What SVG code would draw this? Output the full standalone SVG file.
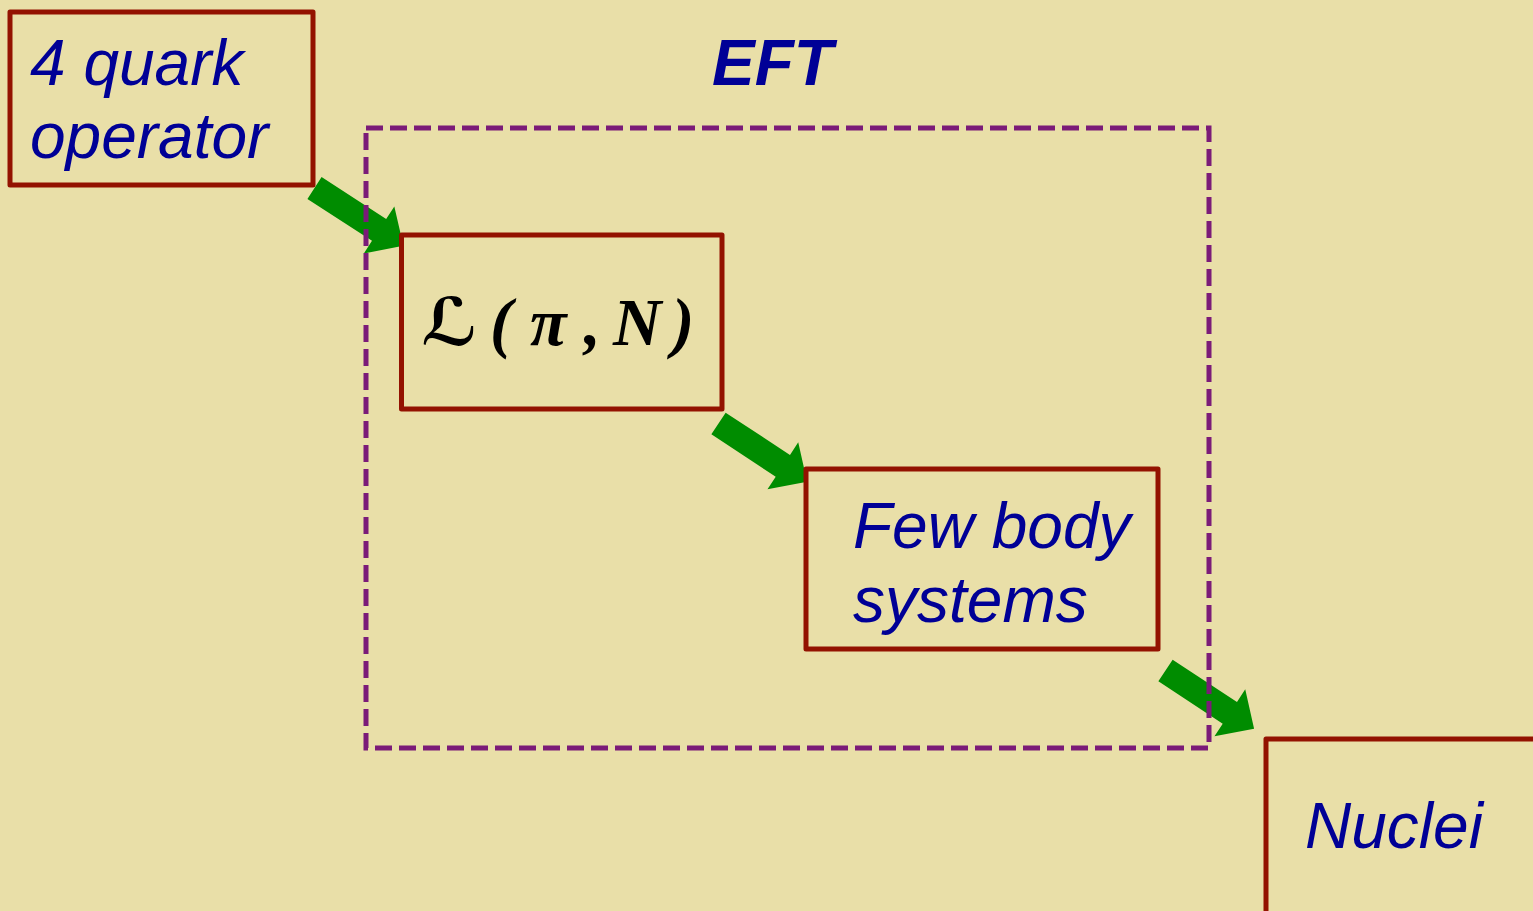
<svg xmlns="http://www.w3.org/2000/svg" width="1533" height="911" viewBox="0 0 1533 911">
<style>
.box{fill:none;stroke:#931200;stroke-width:5;stroke-linejoin:round}
.lbl{font-family:"Liberation Sans",Arial,sans-serif;font-style:italic;font-size:64px;fill:#000096}
.math{font-family:"Liberation Serif","Times New Roman",serif;font-style:italic;font-weight:bold;font-size:67px;fill:#000}
.arr{fill:#008C00}
.eft{fill:none;stroke:#7B1B78;stroke-width:5;stroke-dasharray:17 7}
</style>
<defs>
<path id="arrow" d="M0,-13 L77,-13 L77,-28 L106,0 L77,28 L77,13 L0,13 Z"/>
</defs>
<rect width="1533" height="911" fill="#E9DFA8"/>
<g id="connectors">
<use href="#arrow" class="arr" transform="translate(314.5,188) rotate(33)"/>
<use href="#arrow" class="arr" transform="translate(718.5,423.5) rotate(33.3)"/>
<use href="#arrow" class="arr" transform="translate(1165.5,670.5) rotate(33.3)"/>
</g>
<g id="eft">
<rect class="eft" x="366" y="128" width="843" height="620"/>
<text x="712" y="85" style="font-family:'Liberation Sans',Arial,sans-serif;font-style:italic;font-weight:bold;font-size:64px;fill:#000096">EFT</text>
</g>
<g id="quark">
<rect class="box" x="10" y="12" width="303" height="173"/>
<text class="lbl" x="30" y="85">4 quark</text>
<text class="lbl" x="30" y="158">operator</text>
</g>
<g id="lagrangian">
<rect class="box" x="401.5" y="235" width="320.5" height="174"/>
<text class="math" y="345"><tspan x="421" style="font-family:'DejaVu Serif','DejaVu Sans',serif;font-weight:bold;font-style:italic;font-size:66px">ℒ</tspan><tspan x="490">(</tspan><tspan x="530">π</tspan><tspan x="584">,</tspan><tspan x="613">N</tspan><tspan x="672">)</tspan></text>
</g>
<g id="fewbody">
<rect class="box" x="806" y="469" width="352" height="180"/>
<text class="lbl" x="853" y="548">Few body</text>
<text class="lbl" x="853" y="622">systems</text>
</g>
<g id="nuclei">
<rect class="box" x="1266" y="739" width="300" height="200"/>
<text class="lbl" x="1305" y="848">Nuclei</text>
</g>
</svg>
